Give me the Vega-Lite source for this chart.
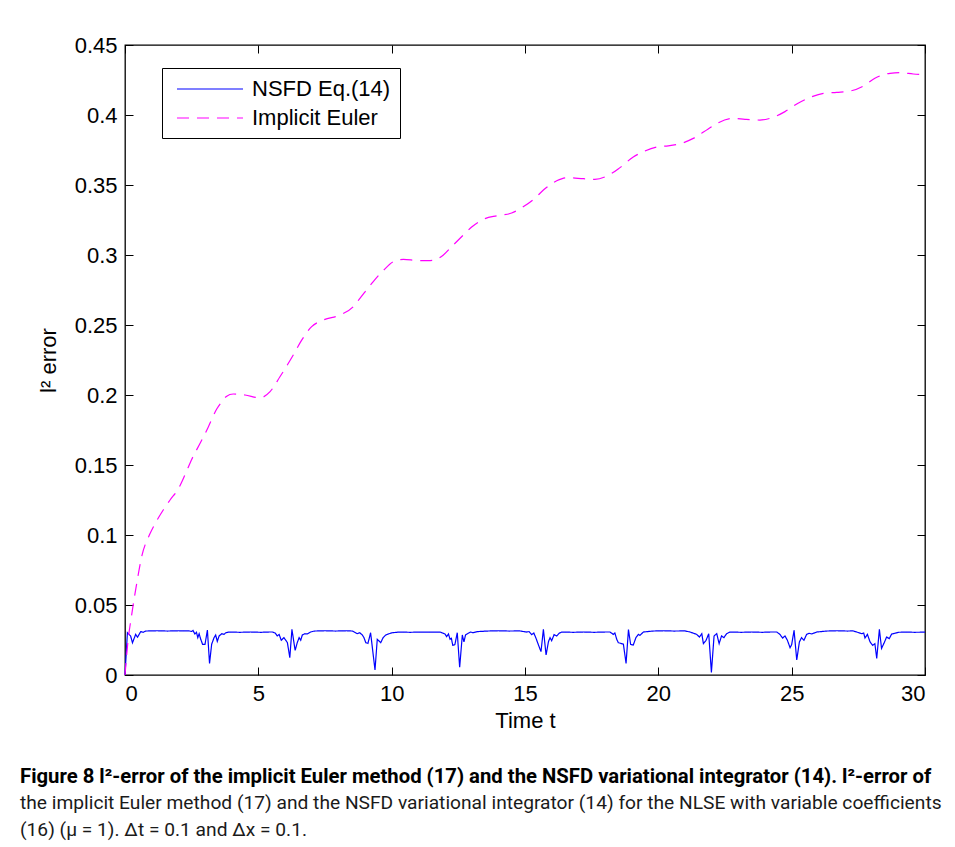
{
  "$schema": "https://vega.github.io/schema/vega-lite/v6.json",
  "width": 800,
  "height": 630,
  "autosize": {"type": "none"},
  "padding": {"left": 125, "top": 45, "right": 30, "bottom": 172},
  "background": "white",
  "config": {
    "view": {"stroke": "black", "strokeWidth": 1.3},
    "font": "Liberation Sans",
    "axis": {
      "domain": false,
      "grid": false,
      "ticks": true,
      "tickSize": -8,
      "tickColor": "black",
      "tickWidth": 1,
      "labelFont": "Liberation Sans",
      "labelFontSize": 22,
      "labelColor": "black",
      "titleFont": "Liberation Sans",
      "titleFontSize": 22,
      "titleFontWeight": "normal",
      "titleColor": "black"
    },
    "legend": {
      "labelFont": "Liberation Sans",
      "labelFontSize": 22,
      "labelColor": "black"
    }
  },
  "datasets": {
    "nsfd": [
      {"t":0,"e":0,"m":"NSFD Eq.(14)"},{"t":0.09,"e":0.0302,"m":"NSFD Eq.(14)"},{"t":0.21,"e":0.0279,"m":"NSFD Eq.(14)"},{"t":0.28,"e":0.023,"m":"NSFD Eq.(14)"},{"t":0.4,"e":0.029,"m":"NSFD Eq.(14)"},{"t":0.47,"e":0.027,"m":"NSFD Eq.(14)"},{"t":0.59,"e":0.031,"m":"NSFD Eq.(14)"},{"t":0.68,"e":0.0305,"m":"NSFD Eq.(14)"},{"t":0.78,"e":0.0314,"m":"NSFD Eq.(14)"},{"t":1.2,"e":0.0316,"m":"NSFD Eq.(14)"},{"t":1.6,"e":0.0314,"m":"NSFD Eq.(14)"},{"t":2.0,"e":0.0316,"m":"NSFD Eq.(14)"},{"t":2.4,"e":0.0315,"m":"NSFD Eq.(14)"},{"t":2.5,"e":0.0311,"m":"NSFD Eq.(14)"},{"t":2.55,"e":0.0318,"m":"NSFD Eq.(14)"},{"t":2.62,"e":0.0293,"m":"NSFD Eq.(14)"},{"t":2.68,"e":0.0305,"m":"NSFD Eq.(14)"},{"t":2.73,"e":0.0267,"m":"NSFD Eq.(14)"},{"t":2.78,"e":0.0295,"m":"NSFD Eq.(14)"},{"t":2.84,"e":0.0255,"m":"NSFD Eq.(14)"},{"t":2.91,"e":0.0219,"m":"NSFD Eq.(14)"},{"t":3.0,"e":0.0219,"m":"NSFD Eq.(14)"},{"t":3.09,"e":0.0321,"m":"NSFD Eq.(14)"},{"t":3.17,"e":0.0083,"m":"NSFD Eq.(14)"},{"t":3.25,"e":0.022,"m":"NSFD Eq.(14)"},{"t":3.34,"e":0.0267,"m":"NSFD Eq.(14)"},{"t":3.4,"e":0.0286,"m":"NSFD Eq.(14)"},{"t":3.46,"e":0.024,"m":"NSFD Eq.(14)"},{"t":3.53,"e":0.0279,"m":"NSFD Eq.(14)"},{"t":3.63,"e":0.0295,"m":"NSFD Eq.(14)"},{"t":3.71,"e":0.029,"m":"NSFD Eq.(14)"},{"t":3.78,"e":0.0302,"m":"NSFD Eq.(14)"},{"t":3.9,"e":0.0307,"m":"NSFD Eq.(14)"},{"t":4.3,"e":0.0305,"m":"NSFD Eq.(14)"},{"t":4.7,"e":0.0307,"m":"NSFD Eq.(14)"},{"t":5.1,"e":0.0305,"m":"NSFD Eq.(14)"},{"t":5.4,"e":0.0307,"m":"NSFD Eq.(14)"},
      {"t":5.53,"e":0.0307,"m":"NSFD Eq.(14)"},{"t":5.63,"e":0.03,"m":"NSFD Eq.(14)"},{"t":5.71,"e":0.0279,"m":"NSFD Eq.(14)"},{"t":5.78,"e":0.029,"m":"NSFD Eq.(14)"},{"t":5.86,"e":0.0248,"m":"NSFD Eq.(14)"},{"t":5.96,"e":0.0267,"m":"NSFD Eq.(14)"},{"t":6.09,"e":0.0231,"m":"NSFD Eq.(14)"},{"t":6.18,"e":0.0124,"m":"NSFD Eq.(14)"},{"t":6.26,"e":0.0326,"m":"NSFD Eq.(14)"},{"t":6.38,"e":0.0176,"m":"NSFD Eq.(14)"},{"t":6.46,"e":0.0231,"m":"NSFD Eq.(14)"},{"t":6.53,"e":0.0267,"m":"NSFD Eq.(14)"},{"t":6.59,"e":0.0248,"m":"NSFD Eq.(14)"},{"t":6.65,"e":0.0286,"m":"NSFD Eq.(14)"},{"t":6.75,"e":0.0295,"m":"NSFD Eq.(14)"},{"t":6.84,"e":0.0293,"m":"NSFD Eq.(14)"},{"t":6.96,"e":0.0307,"m":"NSFD Eq.(14)"},{"t":7.1,"e":0.0314,"m":"NSFD Eq.(14)"},{"t":7.5,"e":0.0316,"m":"NSFD Eq.(14)"},{"t":7.9,"e":0.0314,"m":"NSFD Eq.(14)"},{"t":8.3,"e":0.0316,"m":"NSFD Eq.(14)"},
      {"t":8.53,"e":0.0314,"m":"NSFD Eq.(14)"},{"t":8.71,"e":0.0295,"m":"NSFD Eq.(14)"},{"t":8.8,"e":0.0302,"m":"NSFD Eq.(14)"},{"t":8.9,"e":0.0286,"m":"NSFD Eq.(14)"},{"t":8.96,"e":0.0267,"m":"NSFD Eq.(14)"},{"t":9.03,"e":0.0231,"m":"NSFD Eq.(14)"},{"t":9.11,"e":0.0226,"m":"NSFD Eq.(14)"},{"t":9.21,"e":0.0302,"m":"NSFD Eq.(14)"},{"t":9.375,"e":0.0036,"m":"NSFD Eq.(14)"},{"t":9.46,"e":0.0255,"m":"NSFD Eq.(14)"},{"t":9.59,"e":0.0231,"m":"NSFD Eq.(14)"},{"t":9.68,"e":0.0267,"m":"NSFD Eq.(14)"},{"t":9.78,"e":0.0286,"m":"NSFD Eq.(14)"},{"t":9.9,"e":0.0295,"m":"NSFD Eq.(14)"},{"t":10.03,"e":0.0302,"m":"NSFD Eq.(14)"},{"t":10.3,"e":0.0307,"m":"NSFD Eq.(14)"},{"t":10.7,"e":0.0305,"m":"NSFD Eq.(14)"},{"t":11.1,"e":0.0307,"m":"NSFD Eq.(14)"},{"t":11.5,"e":0.0306,"m":"NSFD Eq.(14)"},{"t":11.82,"e":0.0307,"m":"NSFD Eq.(14)"},
      {"t":12.0,"e":0.0293,"m":"NSFD Eq.(14)"},{"t":12.06,"e":0.0274,"m":"NSFD Eq.(14)"},{"t":12.13,"e":0.0293,"m":"NSFD Eq.(14)"},{"t":12.19,"e":0.0255,"m":"NSFD Eq.(14)"},{"t":12.24,"e":0.0262,"m":"NSFD Eq.(14)"},{"t":12.29,"e":0.0212,"m":"NSFD Eq.(14)"},{"t":12.37,"e":0.0217,"m":"NSFD Eq.(14)"},{"t":12.46,"e":0.0302,"m":"NSFD Eq.(14)"},{"t":12.55,"e":0.0055,"m":"NSFD Eq.(14)"},{"t":12.65,"e":0.0286,"m":"NSFD Eq.(14)"},{"t":12.71,"e":0.0236,"m":"NSFD Eq.(14)"},{"t":12.77,"e":0.0286,"m":"NSFD Eq.(14)"},{"t":12.87,"e":0.0298,"m":"NSFD Eq.(14)"},{"t":12.96,"e":0.0307,"m":"NSFD Eq.(14)"},{"t":13.05,"e":0.0302,"m":"NSFD Eq.(14)"},{"t":13.21,"e":0.031,"m":"NSFD Eq.(14)"},{"t":13.6,"e":0.0314,"m":"NSFD Eq.(14)"},{"t":14.0,"e":0.0316,"m":"NSFD Eq.(14)"},{"t":14.4,"e":0.0314,"m":"NSFD Eq.(14)"},{"t":14.8,"e":0.0315,"m":"NSFD Eq.(14)"},
      {"t":15.06,"e":0.0307,"m":"NSFD Eq.(14)"},{"t":15.15,"e":0.031,"m":"NSFD Eq.(14)"},{"t":15.25,"e":0.0288,"m":"NSFD Eq.(14)"},{"t":15.33,"e":0.03,"m":"NSFD Eq.(14)"},{"t":15.41,"e":0.0264,"m":"NSFD Eq.(14)"},{"t":15.5,"e":0.0217,"m":"NSFD Eq.(14)"},{"t":15.6,"e":0.0167,"m":"NSFD Eq.(14)"},{"t":15.69,"e":0.0326,"m":"NSFD Eq.(14)"},{"t":15.79,"e":0.0143,"m":"NSFD Eq.(14)"},{"t":15.88,"e":0.0238,"m":"NSFD Eq.(14)"},{"t":15.94,"e":0.0267,"m":"NSFD Eq.(14)"},{"t":16.0,"e":0.0245,"m":"NSFD Eq.(14)"},{"t":16.09,"e":0.0288,"m":"NSFD Eq.(14)"},{"t":16.19,"e":0.0279,"m":"NSFD Eq.(14)"},{"t":16.28,"e":0.0298,"m":"NSFD Eq.(14)"},{"t":16.38,"e":0.0307,"m":"NSFD Eq.(14)"},{"t":16.8,"e":0.0305,"m":"NSFD Eq.(14)"},{"t":17.2,"e":0.0307,"m":"NSFD Eq.(14)"},{"t":17.6,"e":0.0305,"m":"NSFD Eq.(14)"},{"t":18.0,"e":0.0307,"m":"NSFD Eq.(14)"},
      {"t":18.19,"e":0.0307,"m":"NSFD Eq.(14)"},{"t":18.31,"e":0.029,"m":"NSFD Eq.(14)"},{"t":18.37,"e":0.03,"m":"NSFD Eq.(14)"},{"t":18.44,"e":0.0255,"m":"NSFD Eq.(14)"},{"t":18.5,"e":0.0231,"m":"NSFD Eq.(14)"},{"t":18.59,"e":0.0226,"m":"NSFD Eq.(14)"},{"t":18.69,"e":0.022,"m":"NSFD Eq.(14)"},{"t":18.79,"e":0.0083,"m":"NSFD Eq.(14)"},{"t":18.88,"e":0.0324,"m":"NSFD Eq.(14)"},{"t":18.96,"e":0.0219,"m":"NSFD Eq.(14)"},{"t":19.06,"e":0.0214,"m":"NSFD Eq.(14)"},{"t":19.16,"e":0.0267,"m":"NSFD Eq.(14)"},{"t":19.25,"e":0.029,"m":"NSFD Eq.(14)"},{"t":19.31,"e":0.0283,"m":"NSFD Eq.(14)"},{"t":19.44,"e":0.0307,"m":"NSFD Eq.(14)"},{"t":19.8,"e":0.0314,"m":"NSFD Eq.(14)"},{"t":20.2,"e":0.0316,"m":"NSFD Eq.(14)"},{"t":20.6,"e":0.0314,"m":"NSFD Eq.(14)"},{"t":21.0,"e":0.0315,"m":"NSFD Eq.(14)"},
      {"t":21.19,"e":0.0307,"m":"NSFD Eq.(14)"},{"t":21.44,"e":0.029,"m":"NSFD Eq.(14)"},{"t":21.54,"e":0.0271,"m":"NSFD Eq.(14)"},{"t":21.63,"e":0.0295,"m":"NSFD Eq.(14)"},{"t":21.69,"e":0.0224,"m":"NSFD Eq.(14)"},{"t":21.79,"e":0.0248,"m":"NSFD Eq.(14)"},{"t":21.89,"e":0.0295,"m":"NSFD Eq.(14)"},{"t":21.99,"e":0.0019,"m":"NSFD Eq.(14)"},{"t":22.09,"e":0.0279,"m":"NSFD Eq.(14)"},{"t":22.19,"e":0.0295,"m":"NSFD Eq.(14)"},{"t":22.28,"e":0.0224,"m":"NSFD Eq.(14)"},{"t":22.37,"e":0.0279,"m":"NSFD Eq.(14)"},{"t":22.46,"e":0.0267,"m":"NSFD Eq.(14)"},{"t":22.56,"e":0.0295,"m":"NSFD Eq.(14)"},{"t":22.69,"e":0.0307,"m":"NSFD Eq.(14)"},{"t":23.1,"e":0.0305,"m":"NSFD Eq.(14)"},{"t":23.5,"e":0.0307,"m":"NSFD Eq.(14)"},{"t":23.9,"e":0.0305,"m":"NSFD Eq.(14)"},{"t":24.2,"e":0.0307,"m":"NSFD Eq.(14)"},
      {"t":24.44,"e":0.0307,"m":"NSFD Eq.(14)"},{"t":24.56,"e":0.029,"m":"NSFD Eq.(14)"},{"t":24.66,"e":0.0264,"m":"NSFD Eq.(14)"},{"t":24.75,"e":0.0279,"m":"NSFD Eq.(14)"},{"t":24.84,"e":0.0248,"m":"NSFD Eq.(14)"},{"t":24.94,"e":0.0195,"m":"NSFD Eq.(14)"},{"t":25.0,"e":0.0217,"m":"NSFD Eq.(14)"},{"t":25.09,"e":0.0319,"m":"NSFD Eq.(14)"},{"t":25.19,"e":0.0107,"m":"NSFD Eq.(14)"},{"t":25.29,"e":0.0236,"m":"NSFD Eq.(14)"},{"t":25.37,"e":0.0267,"m":"NSFD Eq.(14)"},{"t":25.46,"e":0.0248,"m":"NSFD Eq.(14)"},{"t":25.56,"e":0.029,"m":"NSFD Eq.(14)"},{"t":25.66,"e":0.0298,"m":"NSFD Eq.(14)"},{"t":25.75,"e":0.0293,"m":"NSFD Eq.(14)"},{"t":25.94,"e":0.0307,"m":"NSFD Eq.(14)"},{"t":26.3,"e":0.0314,"m":"NSFD Eq.(14)"},{"t":26.7,"e":0.0316,"m":"NSFD Eq.(14)"},{"t":27.1,"e":0.0314,"m":"NSFD Eq.(14)"},{"t":27.3,"e":0.0315,"m":"NSFD Eq.(14)"},
      {"t":27.44,"e":0.0307,"m":"NSFD Eq.(14)"},{"t":27.63,"e":0.0295,"m":"NSFD Eq.(14)"},{"t":27.7,"e":0.03,"m":"NSFD Eq.(14)"},{"t":27.75,"e":0.0264,"m":"NSFD Eq.(14)"},{"t":27.84,"e":0.029,"m":"NSFD Eq.(14)"},{"t":27.94,"e":0.0236,"m":"NSFD Eq.(14)"},{"t":28.04,"e":0.0212,"m":"NSFD Eq.(14)"},{"t":28.12,"e":0.0224,"m":"NSFD Eq.(14)"},{"t":28.19,"e":0.0119,"m":"NSFD Eq.(14)"},{"t":28.29,"e":0.0326,"m":"NSFD Eq.(14)"},{"t":28.37,"e":0.019,"m":"NSFD Eq.(14)"},{"t":28.46,"e":0.0226,"m":"NSFD Eq.(14)"},{"t":28.56,"e":0.0271,"m":"NSFD Eq.(14)"},{"t":28.66,"e":0.026,"m":"NSFD Eq.(14)"},{"t":28.75,"e":0.0293,"m":"NSFD Eq.(14)"},{"t":28.87,"e":0.0298,"m":"NSFD Eq.(14)"},{"t":29.0,"e":0.0305,"m":"NSFD Eq.(14)"},{"t":29.3,"e":0.0307,"m":"NSFD Eq.(14)"},{"t":29.6,"e":0.0305,"m":"NSFD Eq.(14)"},{"t":30.0,"e":0.0306,"m":"NSFD Eq.(14)"}
    ],
    "euler": [
      {"t":0,"e":0,"m":"Implicit Euler"},{"t":0.1,"e":0.022,"m":"Implicit Euler"},{"t":0.25,"e":0.043,"m":"Implicit Euler"},{"t":0.44,"e":0.0655,"m":"Implicit Euler"},{"t":0.625,"e":0.0845,"m":"Implicit Euler"},{"t":0.94,"e":0.101,"m":"Implicit Euler"},{"t":1.125,"e":0.108,"m":"Implicit Euler"},{"t":1.44,"e":0.118,"m":"Implicit Euler"},{"t":1.69,"e":0.125,"m":"Implicit Euler"},{"t":2.0,"e":0.133,"m":"Implicit Euler"},{"t":2.25,"e":0.143,"m":"Implicit Euler"},{"t":2.5,"e":0.154,"m":"Implicit Euler"},{"t":2.69,"e":0.161,"m":"Implicit Euler"},{"t":2.94,"e":0.17,"m":"Implicit Euler"},{"t":3.12,"e":0.177,"m":"Implicit Euler"},{"t":3.44,"e":0.19,"m":"Implicit Euler"},{"t":3.62,"e":0.195,"m":"Implicit Euler"},{"t":3.8,"e":0.199,"m":"Implicit Euler"},{"t":4.06,"e":0.2007,"m":"Implicit Euler"},{"t":4.5,"e":0.2,"m":"Implicit Euler"},{"t":5.06,"e":0.198,"m":"Implicit Euler"},{"t":5.44,"e":0.2024,"m":"Implicit Euler"},{"t":5.81,"e":0.213,"m":"Implicit Euler"},{"t":6.31,"e":0.2286,"m":"Implicit Euler"},{"t":6.62,"e":0.239,"m":"Implicit Euler"},{"t":7.0,"e":0.2488,"m":"Implicit Euler"},{"t":7.44,"e":0.2536,"m":"Implicit Euler"},{"t":8.06,"e":0.2571,"m":"Implicit Euler"},{"t":8.56,"e":0.263,"m":"Implicit Euler"},{"t":8.81,"e":0.269,"m":"Implicit Euler"},{"t":9.31,"e":0.281,"m":"Implicit Euler"},{"t":9.69,"e":0.289,"m":"Implicit Euler"},{"t":10.06,"e":0.2952,"m":"Implicit Euler"},{"t":10.44,"e":0.2969,"m":"Implicit Euler"},{"t":11.0,"e":0.296,"m":"Implicit Euler"},{"t":11.44,"e":0.296,"m":"Implicit Euler"},{"t":11.94,"e":0.3,"m":"Implicit Euler"},{"t":12.25,"e":0.306,"m":"Implicit Euler"},{"t":12.69,"e":0.3143,"m":"Implicit Euler"},{"t":13.0,"e":0.32,"m":"Implicit Euler"},{"t":13.5,"e":0.326,"m":"Implicit Euler"},{"t":13.94,"e":0.328,"m":"Implicit Euler"},{"t":14.5,"e":0.33,"m":"Implicit Euler"},{"t":14.88,"e":0.3338,"m":"Implicit Euler"},{"t":15.37,"e":0.3405,"m":"Implicit Euler"},{"t":15.69,"e":0.3464,"m":"Implicit Euler"},{"t":16.19,"e":0.353,"m":"Implicit Euler"},{"t":16.56,"e":0.3552,"m":"Implicit Euler"},{"t":17.19,"e":0.3545,"m":"Implicit Euler"},{"t":17.62,"e":0.354,"m":"Implicit Euler"},{"t":18.19,"e":0.3576,"m":"Implicit Euler"},{"t":18.56,"e":0.3624,"m":"Implicit Euler"},{"t":19.06,"e":0.37,"m":"Implicit Euler"},{"t":19.44,"e":0.3738,"m":"Implicit Euler"},{"t":20.0,"e":0.3774,"m":"Implicit Euler"},{"t":20.37,"e":0.378,"m":"Implicit Euler"},{"t":20.94,"e":0.3802,"m":"Implicit Euler"},{"t":21.31,"e":0.3833,"m":"Implicit Euler"},{"t":21.87,"e":0.39,"m":"Implicit Euler"},{"t":22.25,"e":0.3945,"m":"Implicit Euler"},{"t":22.81,"e":0.3976,"m":"Implicit Euler"},{"t":23.25,"e":0.3969,"m":"Implicit Euler"},{"t":23.81,"e":0.3964,"m":"Implicit Euler"},{"t":24.25,"e":0.398,"m":"Implicit Euler"},{"t":24.75,"e":0.4024,"m":"Implicit Euler"},{"t":25.19,"e":0.4079,"m":"Implicit Euler"},{"t":25.69,"e":0.4126,"m":"Implicit Euler"},{"t":26.19,"e":0.4155,"m":"Implicit Euler"},{"t":26.69,"e":0.4162,"m":"Implicit Euler"},{"t":27.19,"e":0.4171,"m":"Implicit Euler"},{"t":27.69,"e":0.4207,"m":"Implicit Euler"},{"t":28.12,"e":0.4262,"m":"Implicit Euler"},{"t":28.69,"e":0.4298,"m":"Implicit Euler"},{"t":29.06,"e":0.4302,"m":"Implicit Euler"},{"t":29.56,"e":0.4293,"m":"Implicit Euler"},{"t":30.0,"e":0.4288,"m":"Implicit Euler"}
    ]
  },
  "title": {
    "text": "Figure 8  l²-error of the implicit Euler method (17) and the NSFD variational integrator (14). l²-error of",
    "subtitle": ["the implicit Euler method (17) and the NSFD variational integrator (14) for the NLSE with variable coefficients", "(16) (μ = 1). Δt = 0.1 and Δx = 0.1."],
    "orient": "bottom",
    "anchor": "start",
    "frame": "group",
    "dx": -105,
    "offset": 36,
    "font": "Roboto",
    "fontSize": 20.3,
    "fontWeight": "bold",
    "color": "black",
    "subtitleFont": "Roboto",
    "subtitleFontSize": 19.2,
    "subtitleFontWeight": "normal",
    "subtitleColor": "#1a1a1a",
    "subtitleLineHeight": 27,
    "subtitlePadding": 7
  },
  "layer": [
    {
      "data": {"name": "nsfd"},
      "mark": {"type": "line", "strokeWidth": 1.2},
      "encoding": {
        "x": {"field": "t", "type": "quantitative", "scale": {"domain": [0, 30], "nice": false, "zero": false},
              "axis": {"orient": "top", "labels": false, "title": null, "values": [0,5,10,15,20,25,30]}},
        "y": {"field": "e", "type": "quantitative", "scale": {"domain": [0, 0.45], "nice": false},
              "axis": {"orient": "right", "labels": false, "title": null, "values": [0,0.05,0.1,0.15,0.2,0.25,0.3,0.35,0.4,0.45]}},
        "color": {"field": "m", "type": "nominal", "scale": {"domain": ["NSFD Eq.(14)", "Implicit Euler"], "range": ["#0000FF", "#FF00FF"]},
                  "legend": {"orient": "none", "legendX": 37, "legendY": 23, "title": null, "strokeColor": "black", "fillColor": "white", "padding": 9, "symbolType": "M-3,0H3", "symbolSize": 484, "symbolStrokeWidth": 1.2, "symbolOffset": 27, "labelOffset": 30, "rowPadding": 6}},
        "strokeDash": {"field": "m", "type": "nominal", "scale": {"domain": ["NSFD Eq.(14)", "Implicit Euler"], "range": [[1, 0], [12, 8]]}, "legend": null}
      }
    },
    {
      "data": {"name": "euler"},
      "mark": {"type": "line", "strokeWidth": 1.2, "interpolate": "monotone"},
      "encoding": {
        "x": {"field": "t", "type": "quantitative", "scale": {"domain": [0, 30], "nice": false, "zero": false},
              "axis": {"orient": "bottom", "title": "Time t", "values": [0,5,10,15,20,25,30], "labelPadding": 16, "titlePadding": 6}},
        "y": {"field": "e", "type": "quantitative", "scale": {"domain": [0, 0.45], "nice": false},
              "axis": {"orient": "left", "title": "l² error", "format": "~g", "values": [0,0.05,0.1,0.15,0.2,0.25,0.3,0.35,0.4,0.45], "labelPadding": 16, "titlePadding": 14}},
        "color": {"field": "m", "type": "nominal", "scale": {"domain": ["NSFD Eq.(14)", "Implicit Euler"], "range": ["#0000FF", "#FF00FF"]}},
        "strokeDash": {"field": "m", "type": "nominal", "scale": {"domain": ["NSFD Eq.(14)", "Implicit Euler"], "range": [[1, 0], [12, 8]]}, "legend": null}
      }
    }
  ],
  "resolve": {"axis": {"x": "independent", "y": "independent"}}
}
